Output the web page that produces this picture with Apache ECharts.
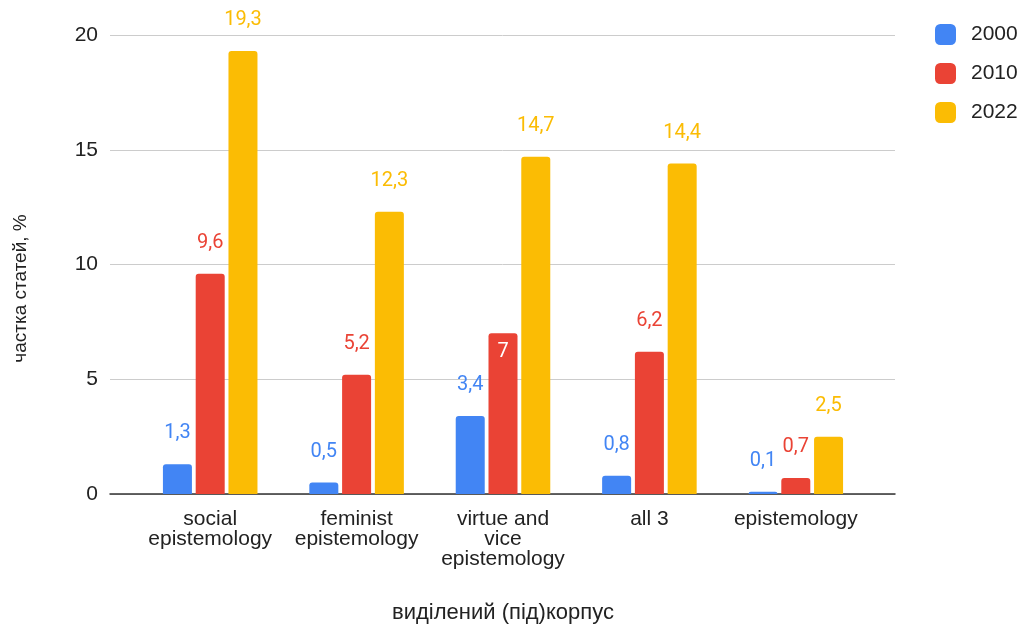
<!DOCTYPE html>
<html>
<head>
<meta charset="utf-8">
<script src="https://cdn.jsdelivr.net/npm/echarts@6/dist/echarts.min.js"></script>
<style>
  html, body { margin: 0; padding: 0; background: #fff; }
  #main { width: 1027px; height: 627px; }
</style>
</head>
<body>
<div id="main"></div>
<script>
var categories = ['social\nepistemology', 'feminist\nepistemology', 'virtue and\nvice\nepistemology', 'all 3', 'epistemology'];
var years = ['2000', '2010', '2022'];
var v2000 = [1.3, 0.5, 3.4, 0.8, 0.1];
var v2010 = [9.6, 5.2, 7, 6.2, 0.7];
var v2022 = [19.3, 12.3, 14.7, 14.4, 2.5];
var colors = ['#4285F4', '#EA4335', '#FBBC04'];
var font = '"Liberation Sans", Arial, sans-serif';
var labelFont = 'Roboto, Arial, sans-serif';

function fmt(p) { return String(p.value).replace('.', ','); }

function makeSeries(name, vals, color) {
  return {
    name: name,
    type: 'bar',
    xAxisIndex: 1,
    yAxisIndex: 1,
    barWidth: 29,
    barGap: '13%',
    itemStyle: { color: color, borderRadius: [3, 3, 0, 0] },
    label: {
      show: true,
      position: 'top',
      distance: 21,
      color: color,
      fontSize: 20,
      fontFamily: labelFont,
      formatter: fmt
    },
    data: vals.map(function (v) { return v; })
  };
}

var s2010 = makeSeries(years[1], v2010, colors[1]);
// Google put the "7" inside its bar
s2010.data[2] = { value: v2010[2], label: { position: 'insideTop', distance: 9, color: '#fff' } };

var chart = echarts.init(document.getElementById('main'));
chart.setOption({
  animation: false,
  textStyle: { fontFamily: font },
  legend: {
    orient: 'vertical',
    left: 935,
    top: 24,
    padding: 0,
    itemWidth: 21,
    itemHeight: 21,
    itemGap: 18,
    icon: 'roundRect',
    textStyle: { fontSize: 21, color: '#222', fontFamily: font, padding: [0, 0, 0, 10] },
    data: years
  },
  grid: [
    { left: 110, right: 132, top: 35, bottom: 133, outerBoundsMode: 'none' },
    { left: 137, right: 158, top: 35, bottom: 133, outerBoundsMode: 'none' }
  ],
  xAxis: [
    {
      gridIndex: 0, type: 'value', min: 0, max: 1,
      axisLine: { show: true, onZero: false, lineStyle: { color: '#333', width: 1.5 } },
      axisLabel: { show: false }, axisTick: { show: false }, splitLine: { show: false }
    },
    {
      gridIndex: 1, type: 'category', data: categories,
      axisLine: { show: false }, axisTick: { show: false },
      axisLabel: { color: '#222', fontSize: 21, lineHeight: 20, margin: 15, interval: 0, fontFamily: font },
      name: 'виділений (під)корпус',
      nameLocation: 'middle',
      nameGap: 108,
      nameTextStyle: { color: '#222', fontSize: 22, fontFamily: font }
    }
  ],
  yAxis: [
    {
      gridIndex: 0, type: 'value', min: 0, max: 20, interval: 5,
      axisLine: { show: false }, axisTick: { show: false },
      axisLabel: { color: '#222', fontSize: 21, margin: 12, fontFamily: font },
      splitLine: { lineStyle: { color: '#cccccc' } },
      name: 'частка статей, %',
      nameLocation: 'middle',
      nameRotate: 90,
      nameGap: 80,
      nameTextStyle: { color: '#222', fontSize: 19, fontFamily: font, padding: [0, 48, 0, 0] }
    },
    {
      gridIndex: 1, type: 'value', min: 0, max: 20, interval: 5, show: false,
      splitLine: { show: false }
    }
  ],
  series: [
    makeSeries(years[0], v2000, colors[0]),
    s2010,
    makeSeries(years[2], v2022, colors[2])
  ]
});
</script>
</body>
</html>
